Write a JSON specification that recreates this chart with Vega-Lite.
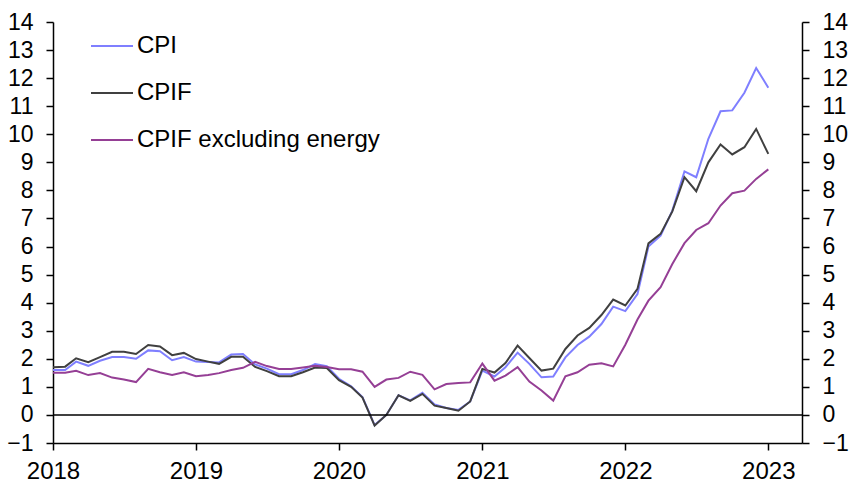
{
  "$schema": "https://vega.github.io/schema/vega-lite/v6.json",
  "width": 749,
  "height": 421,
  "autosize": "none",
  "padding": {"left": 53, "top": 22, "right": 53, "bottom": 54},
  "config": {
    "view": {"stroke": null},
    "font": "Liberation Sans",
    "axis": {
      "labelFont": "Liberation Sans",
      "labelFontSize": 23,
      "labelColor": "#000000",
      "domainColor": "#000000",
      "domainWidth": 1.5,
      "tickColor": "#000000",
      "tickWidth": 1.5,
      "tickSize": 7,
      "grid": false,
      "title": null,
      "labelFlush": false,
      "labelOverlap": false
    },
    "legend": {
      "labelFont": "Liberation Sans",
      "labelFontSize": 24,
      "labelColor": "#000000",
      "labelLimit": 500
    }
  },
  "layer": [
    {
      "data": {
        "values": [
          {"date": "2018-01-01", "CPI": 1.6, "CPIF": 1.7, "CPIF excluding energy": 1.5},
          {"date": "2018-02-01", "CPI": 1.6, "CPIF": 1.72, "CPIF excluding energy": 1.5},
          {"date": "2018-03-01", "CPI": 1.9, "CPIF": 2.02, "CPIF excluding energy": 1.57},
          {"date": "2018-04-01", "CPI": 1.75, "CPIF": 1.88, "CPIF excluding energy": 1.42},
          {"date": "2018-05-01", "CPI": 1.93, "CPIF": 2.06, "CPIF excluding energy": 1.49},
          {"date": "2018-06-01", "CPI": 2.06, "CPIF": 2.25, "CPIF excluding energy": 1.33},
          {"date": "2018-07-01", "CPI": 2.06, "CPIF": 2.25, "CPIF excluding energy": 1.26},
          {"date": "2018-08-01", "CPI": 2.0, "CPIF": 2.17, "CPIF excluding energy": 1.17},
          {"date": "2018-09-01", "CPI": 2.3, "CPIF": 2.49, "CPIF excluding energy": 1.64},
          {"date": "2018-10-01", "CPI": 2.27, "CPIF": 2.44, "CPIF excluding energy": 1.52},
          {"date": "2018-11-01", "CPI": 1.95, "CPIF": 2.13, "CPIF excluding energy": 1.42},
          {"date": "2018-12-01", "CPI": 2.06, "CPIF": 2.21, "CPIF excluding energy": 1.52},
          {"date": "2019-01-01", "CPI": 1.9, "CPIF": 1.99, "CPIF excluding energy": 1.38},
          {"date": "2019-02-01", "CPI": 1.89, "CPIF": 1.9, "CPIF excluding energy": 1.42},
          {"date": "2019-03-01", "CPI": 1.87, "CPIF": 1.82, "CPIF excluding energy": 1.49},
          {"date": "2019-04-01", "CPI": 2.15, "CPIF": 2.07, "CPIF excluding energy": 1.6},
          {"date": "2019-05-01", "CPI": 2.17, "CPIF": 2.07, "CPIF excluding energy": 1.68},
          {"date": "2019-06-01", "CPI": 1.8, "CPIF": 1.71, "CPIF excluding energy": 1.89},
          {"date": "2019-07-01", "CPI": 1.65, "CPIF": 1.56, "CPIF excluding energy": 1.74},
          {"date": "2019-08-01", "CPI": 1.45, "CPIF": 1.38, "CPIF excluding energy": 1.64},
          {"date": "2019-09-01", "CPI": 1.45, "CPIF": 1.38, "CPIF excluding energy": 1.64},
          {"date": "2019-10-01", "CPI": 1.6, "CPIF": 1.52, "CPIF excluding energy": 1.69},
          {"date": "2019-11-01", "CPI": 1.81, "CPIF": 1.69, "CPIF excluding energy": 1.75},
          {"date": "2019-12-01", "CPI": 1.74, "CPIF": 1.67, "CPIF excluding energy": 1.71},
          {"date": "2020-01-01", "CPI": 1.29, "CPIF": 1.24, "CPIF excluding energy": 1.63},
          {"date": "2020-02-01", "CPI": 1.02, "CPIF": 1.0, "CPIF excluding energy": 1.63},
          {"date": "2020-03-01", "CPI": 0.64, "CPIF": 0.62, "CPIF excluding energy": 1.54},
          {"date": "2020-04-01", "CPI": -0.36, "CPIF": -0.38, "CPIF excluding energy": 1.0},
          {"date": "2020-05-01", "CPI": 0.0, "CPIF": 0.0, "CPIF excluding energy": 1.26},
          {"date": "2020-06-01", "CPI": 0.7, "CPIF": 0.7, "CPIF excluding energy": 1.32},
          {"date": "2020-07-01", "CPI": 0.52, "CPIF": 0.5, "CPIF excluding energy": 1.54},
          {"date": "2020-08-01", "CPI": 0.79, "CPIF": 0.75, "CPIF excluding energy": 1.43},
          {"date": "2020-09-01", "CPI": 0.37, "CPIF": 0.33, "CPIF excluding energy": 0.91},
          {"date": "2020-10-01", "CPI": 0.25, "CPIF": 0.25, "CPIF excluding energy": 1.1},
          {"date": "2020-11-01", "CPI": 0.18, "CPIF": 0.15, "CPIF excluding energy": 1.14},
          {"date": "2020-12-01", "CPI": 0.48, "CPIF": 0.48, "CPIF excluding energy": 1.16},
          {"date": "2021-01-01", "CPI": 1.58, "CPIF": 1.64, "CPIF excluding energy": 1.83},
          {"date": "2021-02-01", "CPI": 1.37, "CPIF": 1.51, "CPIF excluding energy": 1.22},
          {"date": "2021-03-01", "CPI": 1.7, "CPIF": 1.85, "CPIF excluding energy": 1.4},
          {"date": "2021-04-01", "CPI": 2.22, "CPIF": 2.47, "CPIF excluding energy": 1.7},
          {"date": "2021-05-01", "CPI": 1.82, "CPIF": 2.03, "CPIF excluding energy": 1.19},
          {"date": "2021-06-01", "CPI": 1.34, "CPIF": 1.58, "CPIF excluding energy": 0.87},
          {"date": "2021-07-01", "CPI": 1.37, "CPIF": 1.65, "CPIF excluding energy": 0.51},
          {"date": "2021-08-01", "CPI": 2.05, "CPIF": 2.35, "CPIF excluding energy": 1.38},
          {"date": "2021-09-01", "CPI": 2.49, "CPIF": 2.83, "CPIF excluding energy": 1.52},
          {"date": "2021-10-01", "CPI": 2.79, "CPIF": 3.1, "CPIF excluding energy": 1.79},
          {"date": "2021-11-01", "CPI": 3.24, "CPIF": 3.56, "CPIF excluding energy": 1.84},
          {"date": "2021-12-01", "CPI": 3.86, "CPIF": 4.11, "CPIF excluding energy": 1.73},
          {"date": "2022-01-01", "CPI": 3.7, "CPIF": 3.9, "CPIF excluding energy": 2.5},
          {"date": "2022-02-01", "CPI": 4.31, "CPIF": 4.49, "CPIF excluding energy": 3.4},
          {"date": "2022-03-01", "CPI": 6.0, "CPIF": 6.11, "CPIF excluding energy": 4.07},
          {"date": "2022-04-01", "CPI": 6.39, "CPIF": 6.45, "CPIF excluding energy": 4.55},
          {"date": "2022-05-01", "CPI": 7.28, "CPIF": 7.25, "CPIF excluding energy": 5.38},
          {"date": "2022-06-01", "CPI": 8.68, "CPIF": 8.47, "CPIF excluding energy": 6.12},
          {"date": "2022-07-01", "CPI": 8.47, "CPIF": 7.97, "CPIF excluding energy": 6.59},
          {"date": "2022-08-01", "CPI": 9.84, "CPIF": 9.0, "CPIF excluding energy": 6.83},
          {"date": "2022-09-01", "CPI": 10.82, "CPIF": 9.64, "CPIF excluding energy": 7.46},
          {"date": "2022-10-01", "CPI": 10.85, "CPIF": 9.28, "CPIF excluding energy": 7.9},
          {"date": "2022-11-01", "CPI": 11.48, "CPIF": 9.54, "CPIF excluding energy": 7.99},
          {"date": "2022-12-01", "CPI": 12.36, "CPIF": 10.19, "CPIF excluding energy": 8.41},
          {"date": "2023-01-01", "CPI": 11.66, "CPIF": 9.3, "CPIF excluding energy": 8.75}
        ]
      },
      "transform": [
        {"fold": ["CPI", "CPIF", "CPIF excluding energy"], "as": ["series", "value"]}
      ],
      "mark": {"type": "line", "strokeWidth": 2},
      "encoding": {
        "x": {
          "field": "date",
          "type": "temporal",
          "scale": {
            "type": "utc",
            "domain": [
              {"year": 2018, "month": 1, "date": 1, "utc": true},
              {"year": 2023, "month": 3, "date": 28, "utc": true}
            ],
            "nice": false
          },
          "axis": {
            "orient": "bottom",
            "format": "%Y",
            "tickCount": {"interval": "year", "step": 1},
            "labelPadding": 9,
            "labelFontSize": 24,
            "labelAlign": "center"
          }
        },
        "y": {
          "field": "value",
          "type": "quantitative",
          "scale": {"domain": [-1, 14], "nice": false, "zero": false},
          "axis": {
            "orient": "left",
            "values": [-1, 0, 1, 2, 3, 4, 5, 6, 7, 8, 9, 10, 11, 12, 13, 14],
            "labelPadding": 13
          }
        },
        "color": {
          "field": "series",
          "type": "nominal",
          "sort": ["CPI", "CPIF", "CPIF excluding energy"],
          "scale": {
            "domain": ["CPI", "CPIF", "CPIF excluding energy"],
            "range": ["#7f7fff", "#404040", "#953f95"]
          },
          "legend": {
            "orient": "none",
            "legendX": 37,
            "legendY": 2,
            "title": null,
            "symbolType": "stroke",
            "symbolSize": 1764,
            "symbolStrokeWidth": 2,
            "labelOffset": 3,
            "labelLimit": 500,
            "rowPadding": 13
          }
        }
      }
    },
    {
      "data": {"values": [{"zero": 0}]},
      "mark": {"type": "rule", "color": "#000000", "strokeWidth": 1.5},
      "encoding": {
        "y": {
          "field": "zero",
          "type": "quantitative",
          "axis": {
            "orient": "right",
            "values": [-1, 0, 1, 2, 3, 4, 5, 6, 7, 8, 9, 10, 11, 12, 13, 14],
            "labelPadding": 13
          }
        }
      }
    }
  ],
  "resolve": {"axis": {"y": "independent"}}
}
